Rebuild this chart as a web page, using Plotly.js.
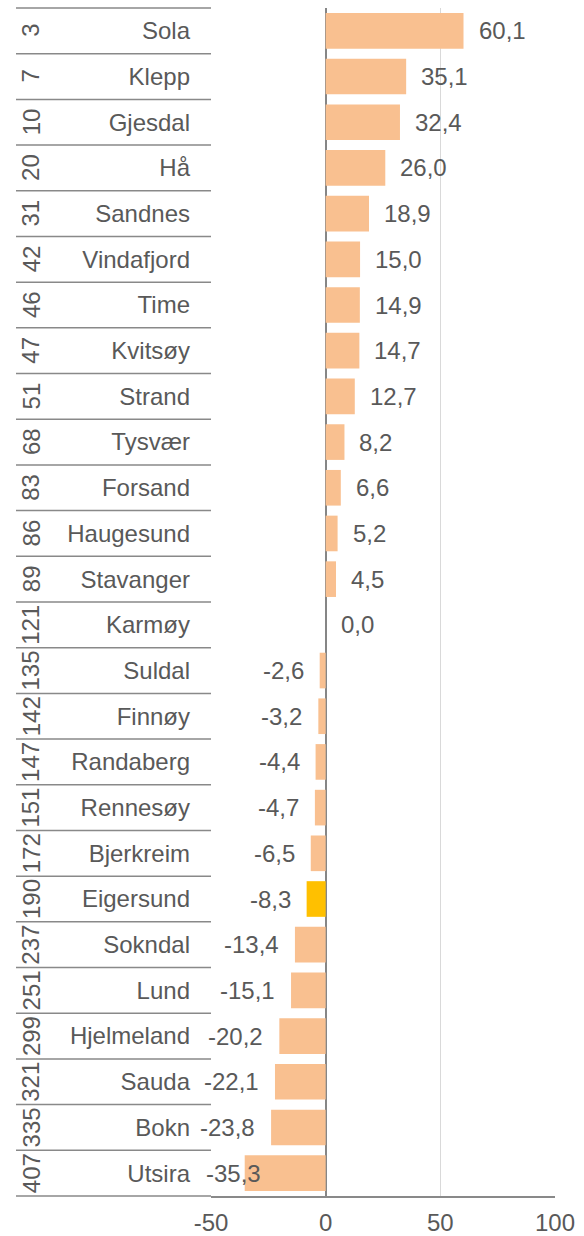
<!DOCTYPE html>
<html>
<head>
<meta charset="utf-8">
<script src="https://cdn.plot.ly/plotly-3.0.1.min.js"></script>
<style>html,body{margin:0;padding:0;background:#fff;}#chart{width:584px;height:1236px;}</style>
</head>
<body>
<div id="chart"></div>
<script>
const names = ["Sola","Klepp","Gjesdal","Hå","Sandnes","Vindafjord","Time","Kvitsøy","Strand","Tysvær","Forsand","Haugesund","Stavanger","Karmøy","Suldal","Finnøy","Randaberg","Rennesøy","Bjerkreim","Eigersund","Sokndal","Lund","Hjelmeland","Sauda","Bokn","Utsira"];
const ranks = [3,7,10,20,31,42,46,47,51,68,83,86,89,121,135,142,147,151,172,190,237,251,299,321,335,407];
const values = [60.1,35.1,32.4,26.0,18.9,15.0,14.9,14.7,12.7,8.2,6.6,5.2,4.5,0.0,-2.6,-3.2,-4.4,-4.7,-6.5,-8.3,-13.4,-15.1,-20.2,-22.1,-23.8,-35.3];
const highlight = "Eigersund";
const xTickVals = [-50,0,50,100];
const xTickText = ["-50","0","50","100"];

const FONT = "Liberation Sans, Arial, sans-serif";
const TXT = "#595959";
const FS = 24;
const W = 584, H = 1236;
const M = {l: 211, r: 29, t: 8, b: 40};
const plotW = W - M.l - M.r;
const xMin = -50, xMax = 100;
const pxPerUnit = plotW / (xMax - xMin);

const colors = names.map(n => n === highlight ? "#FFC000" : "#F9C090");
const fmt = v => v.toFixed(1).replace(".", ",");
const charW = c => (c === "-" ? 0.333 : c === "," ? 0.278 : 0.556);
const textW = t => t.split("").reduce((s, c) => s + charW(c), 0) * FS;

const annotations = [];
names.forEach((n, i) => {
  const v = values[i];
  const t = fmt(v);
  const a = {x: v, y: n, xref: "x", yref: "y", text: t, showarrow: false,
    font: {family: FONT, size: FS, color: TXT}, yanchor: "middle"};
  if (v >= 0) { a.xanchor = "left"; a.xshift = 13; }
  else {
    const leftPx = (v - xMin) * pxPerUnit - 15 - textW(t);
    if (leftPx < -20) { a.x = xMin; a.xanchor = "left"; a.xshift = -7; }
    else { a.xanchor = "right"; a.xshift = -14; }
  }
  annotations.push(a);
  annotations.push({x: (31 - M.l) / plotW, xref: "paper", y: n, yref: "y", text: String(ranks[i]),
    textangle: -90, showarrow: false, xanchor: "center", yanchor: "middle",
    font: {family: FONT, size: FS, color: TXT}});
});

const shapes = [];
for (let k = 0; k <= names.length; k++) {
  shapes.push({type: "line", xref: "paper", yref: "paper",
    x0: (16 - M.l) / plotW, x1: 0, y0: k / names.length, y1: k / names.length,
    line: {color: "#898989", width: 1.5}});
}

const trace = {
  type: "bar", orientation: "h", x: values, y: names,
  marker: {color: colors, line: {width: 0}},
  hoverinfo: "skip"
};

const layout = {
  width: W, height: H, margin: M,
  paper_bgcolor: "#fff", plot_bgcolor: "#fff",
  showlegend: false, bargap: 0.22,
  font: {family: FONT, size: FS, color: TXT},
  xaxis: {range: [xMin, xMax], tickvals: xTickVals, ticktext: xTickText,
    showgrid: true, gridcolor: "#d9d9d9", gridwidth: 1.5,
    zeroline: true, zerolinecolor: "#868686", zerolinewidth: 2,
    showline: true, linecolor: "#898989", linewidth: 1.5,
    ticks: "", ticklabelstandoff: 5,
    tickfont: {family: FONT, size: FS, color: TXT}, fixedrange: true},
  yaxis: {type: "category", categoryorder: "array", categoryarray: names,
    range: [names.length - 0.5, -0.5], showgrid: false, zeroline: false, showline: false,
    ticks: "", ticklabelstandoff: 20,
    tickfont: {family: FONT, size: FS, color: TXT}, fixedrange: true},
  annotations: annotations,
  shapes: shapes
};

Plotly.newPlot("chart", [trace], layout, {displayModeBar: false, staticPlot: true});
</script>
</body>
</html>
